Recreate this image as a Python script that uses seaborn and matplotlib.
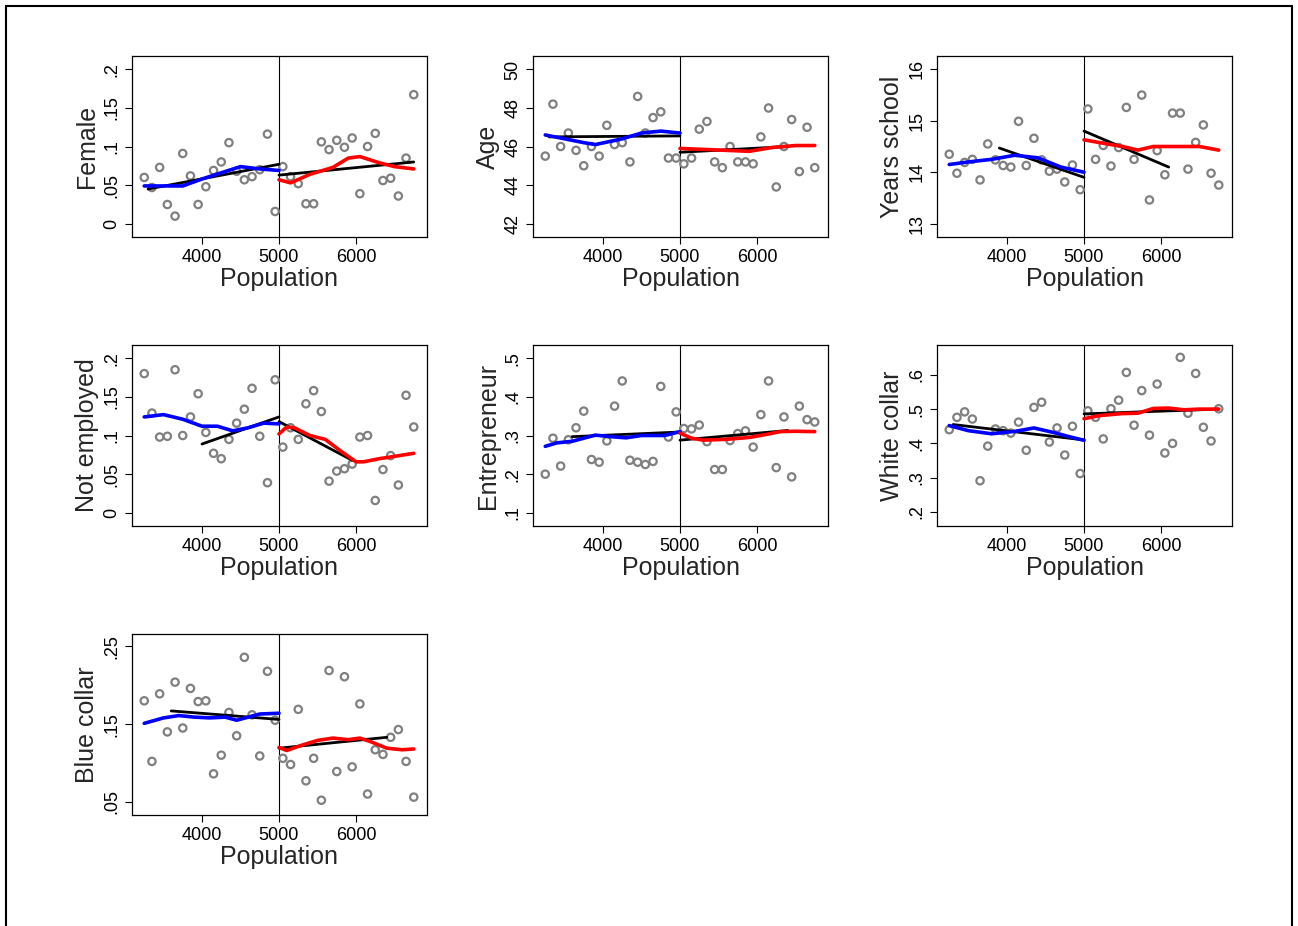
import matplotlib
matplotlib.use("Agg")
import matplotlib.pyplot as plt
import matplotlib.patches as mpatches
import seaborn as sns
import numpy as np

sns.set_style("white")
plt.rcParams['font.family'] = ['Liberation Sans', 'DejaVu Sans']

# population bins (left / right of the 5000 cutoff)
pop_left = [3250, 3350, 3450, 3550, 3650, 3750, 3850, 3950, 4050, 4150, 4250, 4350, 4450, 4550, 4650, 4750, 4850, 4950]
pop_right = [5050, 5150, 5250, 5350, 5450, 5550, 5650, 5750, 5850, 5950, 6050, 6150, 6250, 6350, 6450, 6550, 6650, 6750]

female = [.060, .047, .073, .025, .010, .091, .062, .025, .048, .069, .080, .105, .068, .057, .061, .070, .116, .016,
          .074, .061, .052, .026, .026, .106, .096, .108, .099, .111, .039, .100, .117, .056, .059, .036, .085, .167]
age = [45.5, 48.2, 46.0, 46.7, 45.8, 45.0, 46.0, 45.5, 47.1, 46.1, 46.2, 45.2, 48.6, 46.7, 47.5, 47.8, 45.4, 45.4,
       45.1, 45.4, 46.9, 47.3, 45.2, 44.9, 46.0, 45.2, 45.2, 45.1, 46.5, 48.0, 43.9, 46.0, 47.4, 44.7, 47.0, 44.9]
years_school = [14.35, 13.98, 14.19, 14.25, 13.85, 14.55, 14.24, 14.13, 14.10, 14.99, 14.13, 14.66, 14.24, 14.02, 14.06, 13.81, 14.14, 13.66,
                15.23, 14.25, 14.52, 14.12, 14.48, 15.26, 14.25, 15.50, 13.46, 14.42, 13.95, 15.15, 15.15, 14.06, 14.58, 14.92, 13.98, 13.75]
not_employed = [.180, .129, .098, .099, .185, .100, .124, .154, .104, .077, .070, .095, .116, .134, .161, .099, .039, .172,
                .085, .110, .095, .141, .158, .131, .041, .054, .057, .063, .098, .100, .016, .056, .074, .036, .152, .111]
entrepreneur = [.200, .293, .221, .289, .320, .363, .238, .231, .286, .376, .441, .236, .231, .225, .233, .427, .296, .361,
                .318, .317, .327, .284, .212, .212, .287, .305, .312, .270, .354, .441, .217, .348, .193, .376, .341, .335]
white_collar = [.440, .476, .492, .471, .291, .392, .442, .437, .430, .462, .380, .505, .520, .404, .445, .366, .450, .312,
                .495, .476, .413, .501, .526, .607, .453, .554, .424, .573, .372, .400, .651, .488, .604, .447, .407, .501]
blue_collar = [.180, .102, .189, .140, .204, .145, .196, .179, .180, .086, .110, .165, .135, .236, .162, .109, .218, .155,
               .106, .098, .169, .077, .106, .052, .219, .089, .211, .095, .176, .060, .117, .111, .133, .143, .102, .056]

# smoothed curves
blue_x = {
    'Female': [3250, 3500, 3750, 4000, 4250, 4500, 4750, 5000],
    'Age': [3250, 3500, 3750, 3900, 4250, 4500, 4750, 5000],
    'Years school': [3250, 3500, 3800, 4100, 4400, 4700, 5000],
    'Not employed': [3250, 3500, 3750, 4000, 4200, 4400, 4600, 4800, 5000],
    'Entrepreneur': [3250, 3400, 3600, 3900, 4100, 4300, 4500, 4800, 5000],
    'White collar': [3250, 3500, 3800, 4100, 4350, 4600, 4800, 5000],
    'Blue collar': [3250, 3500, 3700, 3900, 4100, 4300, 4450, 4600, 4750, 5000],
}
blue_y = {
    'Female': [.049, .049, .049, .058, .066, .074, .071, .069],
    'Age': [46.6, 46.4, 46.2, 46.1, 46.4, 46.7, 46.8, 46.7],
    'Years school': [14.15, 14.2, 14.25, 14.33, 14.28, 14.1, 14.0],
    'Not employed': [.124, .127, .121, .112, .112, .106, .110, .116, .115],
    'Entrepreneur': [.272, .281, .285, .301, .297, .294, .300, .300, .310],
    'White collar': [.452, .437, .428, .435, .445, .432, .420, .409],
    'Blue collar': [.151, .158, .161, .159, .158, .159, .155, .159, .163, .164],
}
red_x = {
    'Female': [5000, 5150, 5400, 5700, 5900, 6050, 6300, 6500, 6750],
    'Age': [5000, 5300, 5600, 5900, 6200, 6500, 6750],
    'Years school': [5000, 5300, 5500, 5700, 5900, 6200, 6500, 6750],
    'Not employed': [5000, 5100, 5200, 5400, 5600, 5800, 6000, 6100, 6300, 6500, 6750],
    'Entrepreneur': [5000, 5150, 5300, 5600, 5900, 6100, 6300, 6500, 6750],
    'White collar': [5000, 5200, 5500, 5700, 5900, 6100, 6300, 6500, 6750],
    'Blue collar': [5000, 5100, 5300, 5500, 5700, 5900, 6050, 6200, 6400, 6600, 6750],
}
red_y = {
    'Female': [.057, .053, .064, .073, .085, .087, .079, .074, .071],
    'Age': [45.9, 45.85, 45.8, 45.75, 45.95, 46.05, 46.05],
    'Years school': [14.63, 14.55, 14.5, 14.43, 14.5, 14.5, 14.5, 14.43],
    'Not employed': [.102, .111, .110, .100, .095, .080, .066, .066, .070, .073, .077],
    'Entrepreneur': [.306, .293, .288, .290, .295, .302, .310, .311, .310],
    'White collar': [.472, .481, .487, .488, .502, .503, .498, .500, .500],
    'Blue collar': [.120, .116, .123, .129, .132, .130, .132, .127, .119, .117, .118],
}
# linear fits: (x0, y0, x1, y1) for each side
fit_left = {
    'Female': (3300, .045, 5000, .077), 'Age': (3300, 46.5, 5000, 46.55),
    'Years school': (3900, 14.47, 5000, 13.9), 'Not employed': (4000, .089, 5000, .124),
    'Entrepreneur': (3600, .297, 5000, .309), 'White collar': (3300, .455, 5000, .41),
    'Blue collar': (3600, .167, 5000, .156),
}
fit_right = {
    'Female': (5000, .063, 6750, .080), 'Age': (5000, 45.7, 6400, 46.0),
    'Years school': (5000, 14.8, 6100, 14.1), 'Not employed': (5000, .118, 5950, .068),
    'Entrepreneur': (5000, .288, 6400, .313), 'White collar': (5000, .486, 6750, .50),
    'Blue collar': (5000, .119, 6400, .133),
}

panels = [
    ('Female', female, [0, .05, .1, .15, .2], (-0.017, .217)),
    ('Age', age, [42, 44, 46, 48, 50], (41.3, 50.7)),
    ('Years school', years_school, [13, 14, 15, 16], (12.74, 16.26)),
    ('Not employed', not_employed, [0, .05, .1, .15, .2], (-0.017, .217)),
    ('Entrepreneur', entrepreneur, [.1, .2, .3, .4, .5], (.066, .534)),
    ('White collar', white_collar, [.2, .3, .4, .5, .6], (.159, .687)),
    ('Blue collar', blue_collar, [.05, .15, .25], (.033, .266)),
]


def fmt(v):
    s = ('%g' % v)
    if s.startswith('0.'):
        s = s[1:]
    return s


fig = plt.figure(figsize=(12.98, 9.26), dpi=100)
W, H = 1298, 926
lefts = [132, 533, 937]
tops = [56, 345, 634]
pw, ph = 295, 181

pop = pop_left + pop_right
for i, (name, vals, ticks, ylim) in enumerate(panels):
    r, c = divmod(i, 3)
    ax = fig.add_axes([lefts[c] / W, 1 - (tops[r] + ph) / H, pw / W, ph / H])
    sns.scatterplot(x=pop, y=vals, ax=ax, marker='o', s=28, facecolors='none',
                    edgecolor='#808080', linewidth=1.6, zorder=2)
    fl, fr = fit_left[name], fit_right[name]
    ax.plot([fl[0], fl[2]], [fl[1], fl[3]], color='black', lw=2, zorder=3)
    ax.plot([fr[0], fr[2]], [fr[1], fr[3]], color='black', lw=2, zorder=3)
    sns.lineplot(x=blue_x[name], y=blue_y[name], ax=ax, color='blue', lw=2.6, zorder=4)
    sns.lineplot(x=red_x[name], y=red_y[name], ax=ax, color='red', lw=2.6, zorder=4)
    ax.axvline(5000, color='black', lw=0.8, zorder=1)
    ax.set_xlim(3091, 6922)
    ax.set_ylim(*ylim)
    ax.set_xticks([4000, 5000, 6000])
    ax.set_yticks(ticks)
    ax.set_yticklabels([fmt(t) for t in ticks], rotation=90, va='center')
    ax.tick_params(axis='both', labelsize=13, length=5, width=0.8, direction='out',
                   left=True, bottom=True, color='black', colors='black')
    ax.set_xlabel('Population', fontsize=18, labelpad=1)
    ax.set_ylabel(name, fontsize=18, labelpad=3)
    for sp in ax.spines.values():
        sp.set_color('black')
        sp.set_linewidth(0.9)

fig.patches.append(mpatches.Rectangle((0.005, -0.01), 0.99, 1.004, transform=fig.transFigure,
                                      fill=False, edgecolor='black', lw=1.5))
fig.savefig('out.png', dpi=100)
